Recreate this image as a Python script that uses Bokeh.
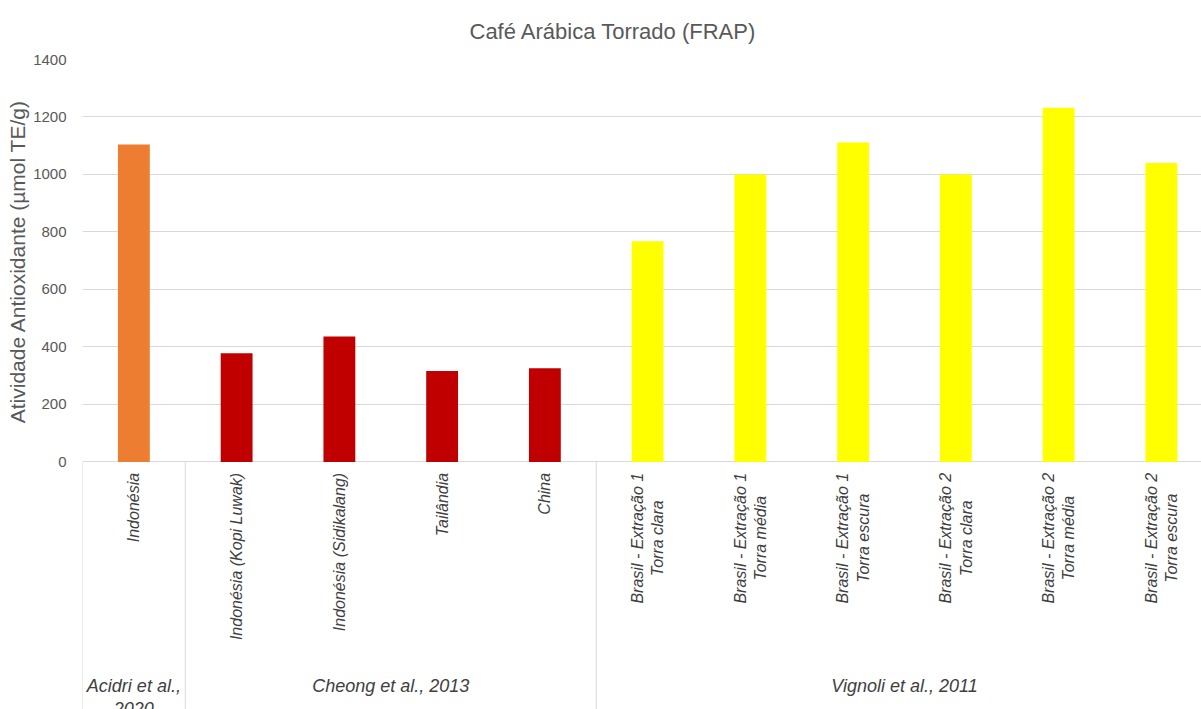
import math
from bokeh.plotting import figure
from bokeh.models import ColumnDataSource, Range1d, FixedTicker, Title
from bokeh.core.properties import value
from bokeh.embed import file_html
from bokeh.resources import INLINE

# ---- data ----
categories = [
    "Indonésia",
    "Indonésia (Kopi Luwak)",
    "Indonésia (Sidikalang)",
    "Tailândia",
    "China",
    "Brasil - Extração 1\nTorra clara",
    "Brasil - Extração 1\nTorra média",
    "Brasil - Extração 1\nTorra escura",
    "Brasil - Extração 2\nTorra clara",
    "Brasil - Extração 2\nTorra média",
    "Brasil - Extração 2\nTorra escura",
]
values = [1104, 378, 436, 316, 326, 768, 1000, 1111, 1000, 1232, 1040]
groups = ["Acidri et al.,\n2020", "Cheong et al., 2013", "Vignoli et al., 2011"]
group_sizes = [1, 4, 6]
group_colors = ["#ED7D31", "#C00000", "#FFFF00"]
y_ticks = [0, 200, 400, 600, 800, 1000, 1200, 1400]
title_text = "Café Arábica Torrado (FRAP)"
y_label = "Atividade Antioxidante (µmol TE/g)"

FONT = "Liberation Sans"
GRID = "#d9d9d9"

colors = []
for c, n in zip(group_colors, group_sizes):
    colors += [c] * n
xs = [i + 0.5 for i in range(len(categories))]

src = ColumnDataSource(dict(x=xs, top=values, color=colors, label=categories))

W, H = 1201, 709
frame_left = 82
frame_top = 58
zero_px = 461
px_per_slot = 102.75
px_per_unit = (zero_px - frame_top) / 1400.0
x_end = (W - frame_left) / px_per_slot
y_bottom = -(H - zero_px) / px_per_unit

p = figure(width=W, height=H, output_backend="svg", toolbar_location=None,
           x_range=Range1d(0, x_end), y_range=Range1d(y_bottom, 1400),
           min_border_left=frame_left, min_border_right=0,
           min_border_bottom=0, min_border_top=frame_top)
p.outline_line_color = None
p.background_fill_color = "white"
p.border_fill_color = "white"

p.title = None
t = Title(text=title_text, align="left", offset=387, standoff=32,
          text_font=FONT, text_font_size="22px", text_font_style="normal",
          text_color="#595959")
p.add_layout(t, "above")

p.vbar(x="x", top="top", bottom=0, width=0.31, fill_color="color",
       line_color=None, source=src)

p.xaxis.visible = False
p.xgrid.visible = False
p.ygrid.ticker = FixedTicker(ticks=y_ticks)
p.ygrid.grid_line_color = GRID
p.ygrid.grid_line_width = 1
yax = p.yaxis[0]
yax.ticker = FixedTicker(ticks=y_ticks)
yax.axis_line_color = None
yax.major_tick_line_color = None
yax.minor_tick_line_color = None
yax.major_label_text_font = FONT
yax.major_label_text_font_size = "15px"
yax.major_label_text_color = "#595959"
yax.major_label_standoff = 10

# y-axis title, placed along the 0..1400 span (measured from the frame top)
ytitle = Title(text=y_label, align="right", offset=40, standoff=3,
               text_font=FONT, text_font_size="21px", text_font_style="normal",
               text_color="#595959")
p.add_layout(ytitle, "left")

# group separators
bounds = [0]
for n in group_sizes:
    bounds.append(bounds[-1] + n)
p.segment(x0=bounds, y0=[0] * len(bounds), x1=bounds, y1=[y_bottom] * len(bounds),
          line_color=GRID, line_width=1)

# category labels
lab_y = -(472 - zero_px) / px_per_unit
p.text(x="x", y=lab_y, text="label", source=src, angle=math.pi / 2,
       anchor="center_right", text_align="center", text_baseline="middle",
       text_font=value(FONT), text_font_size="16px", text_font_style="italic",
       text_color="#404040", text_line_height=1.2)

# group labels
gx = [(bounds[i] + bounds[i + 1]) / 2 for i in range(len(groups))]
gy = -(675 - zero_px) / px_per_unit
p.text(x=gx, y=[gy] * len(gx), text=groups, anchor="top_center",
       text_align="center", text_baseline="top",
       text_font=value(FONT), text_font_size="18px", text_font_style="italic",
       text_color="#404040", text_line_height=1.15)

open("out.html", "w").write(file_html(p, INLINE))
